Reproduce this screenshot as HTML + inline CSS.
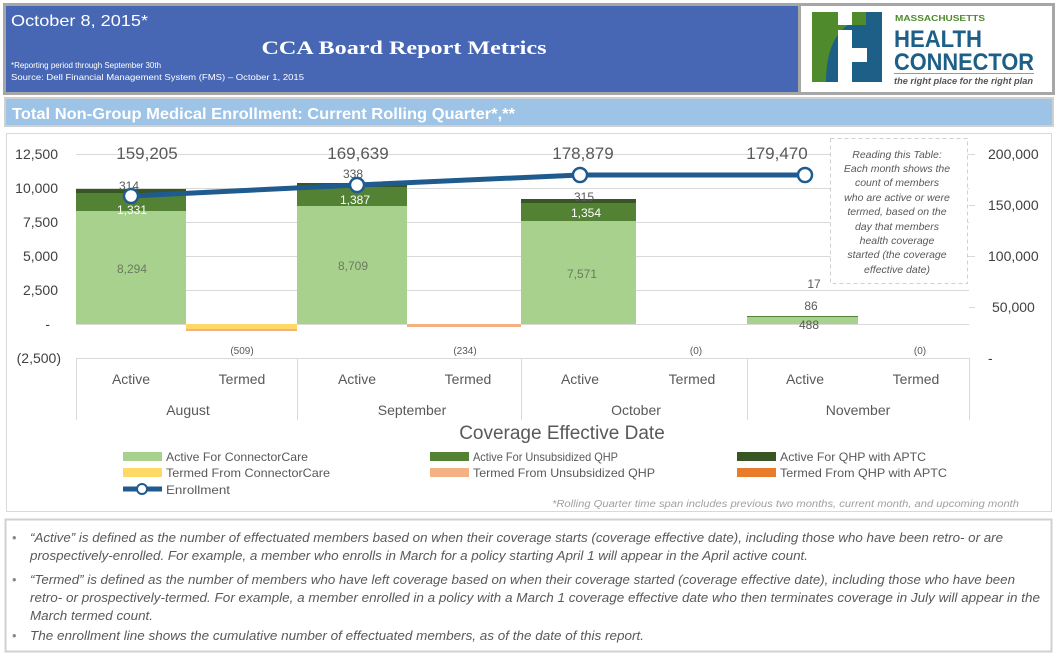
<!DOCTYPE html>
<html><head><meta charset="utf-8"><style>
html,body{margin:0;padding:0;background:#fff;}
svg{display:block;font-family:"Liberation Sans",sans-serif;}
</style></head><body>
<svg width="1057" height="656" viewBox="0 0 1057 656" xmlns="http://www.w3.org/2000/svg">
<rect x="0" y="0" width="1057" height="656" fill="#fff"/>
<!-- header -->
<rect x="3" y="3" width="1052" height="92" fill="#a6a6a6"/>
<rect x="6" y="6" width="792" height="86" fill="#4767b5"/>
<rect x="801" y="6" width="251" height="86" fill="#fff"/>
<text x="11" y="26" fill="#fff" font-size="16" textLength="137" lengthAdjust="spacingAndGlyphs">October 8, 2015*</text>
<text x="404" y="54" fill="#fff" font-size="19" font-weight="bold" font-family="Liberation Serif,serif" text-anchor="middle" textLength="285" lengthAdjust="spacingAndGlyphs">CCA Board Report Metrics</text>
<text x="11" y="68" fill="#fff" font-size="8" textLength="150" lengthAdjust="spacingAndGlyphs">*Reporting period through September 30th</text>
<text x="11" y="80" fill="#fff" font-size="8.5" textLength="293" lengthAdjust="spacingAndGlyphs">Source: Dell Financial Management System (FMS) – October 1, 2015</text>
<!-- logo -->
<rect x="812" y="12" width="70" height="70" fill="#4f8a2d"/>
<path d="M826 82 Q826 40 848 25 L882 25 L882 82 Z" fill="#1d5f86"/>
<rect x="838" y="12" width="14" height="13" fill="#fff"/>
<rect x="838" y="30" width="15" height="52" fill="#fff"/>
<rect x="866" y="12" width="16" height="70" fill="#1d5f86"/>
<rect x="851" y="48" width="16" height="14" fill="#fff"/>
<rect x="852" y="30" width="14" height="18" fill="#1d5f86"/>
<rect x="852" y="62" width="14" height="20" fill="#1d5f86"/>
<text x="895" y="21" fill="#4f8a2d" font-size="8" font-weight="bold" textLength="90" lengthAdjust="spacingAndGlyphs">MASSACHUSETTS</text>
<text x="894" y="47" fill="#1d5f86" font-size="24" font-weight="bold" textLength="88" lengthAdjust="spacingAndGlyphs">HEALTH</text>
<text x="894" y="70" fill="#1d5f86" font-size="24" font-weight="bold" textLength="140" lengthAdjust="spacingAndGlyphs">CONNECTOR</text>
<rect x="894" y="73" width="140" height="1" fill="#999"/>
<text x="894" y="84" fill="#555" font-size="9" font-style="italic" font-weight="bold" textLength="139" lengthAdjust="spacingAndGlyphs">the right place for the right plan</text>
<!-- title bar -->
<rect x="4" y="97" width="1050" height="30" fill="#d0d0d0"/>
<rect x="6" y="99" width="1046" height="26" fill="#9dc3e6"/>
<text x="12" y="119" fill="#fff" font-size="16" font-weight="bold" textLength="503" lengthAdjust="spacingAndGlyphs">Total Non-Group Medical Enrollment: Current Rolling Quarter*,**</text>
<!-- chart panel -->
<rect x="6.5" y="133.5" width="1045" height="378" fill="#fff" stroke="#d9d9d9"/>
<g stroke="#d9d9d9" stroke-width="1">
<line x1="76" y1="154.5" x2="969" y2="154.5"/>
<line x1="76" y1="188.5" x2="969" y2="188.5"/>
<line x1="76" y1="222.5" x2="969" y2="222.5"/>
<line x1="76" y1="256.5" x2="969" y2="256.5"/>
<line x1="76" y1="290.5" x2="969" y2="290.5"/>
<line x1="76" y1="324.5" x2="969" y2="324.5"/>
<line x1="76" y1="358.5" x2="969" y2="358.5"/>
<line x1="76.5" y1="358" x2="76.5" y2="420"/>
<line x1="297.5" y1="358" x2="297.5" y2="420"/>
<line x1="521.5" y1="358" x2="521.5" y2="420"/>
<line x1="747.5" y1="358" x2="747.5" y2="420"/>
<line x1="969.5" y1="358" x2="969.5" y2="420"/>
<line x1="969" y1="154.5" x2="975" y2="154.5"/>
<line x1="969" y1="205.5" x2="975" y2="205.5"/>
<line x1="969" y1="256.5" x2="975" y2="256.5"/>
<line x1="969" y1="307.5" x2="975" y2="307.5"/>
</g>
<g fill="#404040" font-size="14" text-anchor="end">
<text x="58" y="159">12,500</text><text x="58" y="193">10,000</text><text x="58" y="227">7,500</text>
<text x="58" y="261">5,000</text><text x="58" y="295">2,500</text><text x="50" y="329">-</text>
<text x="61" y="363">(2,500)</text>
</g>
<g fill="#404040" font-size="14">
<text x="988" y="159">200,000</text><text x="988" y="210">150,000</text><text x="988" y="261">100,000</text>
<text x="992" y="312">50,000</text><text x="988" y="363">-</text>
</g>
<!-- bars -->
<g>
<rect x="76" y="211" width="110" height="113" fill="#a9d18e"/>
<rect x="76" y="193" width="110" height="18" fill="#548235"/>
<rect x="76" y="189" width="110" height="4" fill="#375623"/>
<rect x="186" y="324" width="111" height="7" fill="#ffd966"/>
<rect x="186" y="329" width="111" height="2" fill="#f4b183"/>
<rect x="297" y="206" width="110" height="118" fill="#a9d18e"/>
<rect x="297" y="187" width="110" height="19" fill="#548235"/>
<rect x="297" y="183" width="110" height="4" fill="#375623"/>
<rect x="407" y="324" width="114" height="3" fill="#f4b183"/>
<rect x="521" y="221" width="115" height="103" fill="#a9d18e"/>
<rect x="521" y="203" width="115" height="18" fill="#548235"/>
<rect x="521" y="199" width="115" height="4" fill="#375623"/>
<rect x="747" y="317" width="111" height="7" fill="#a9d18e"/>
<rect x="747" y="316" width="111" height="1" fill="#548235"/>
</g>
<!-- line -->
<polyline points="131,196 357,185 580,175 805,175" fill="none" stroke="#1f5b8e" stroke-width="5"/>
<g fill="#fff" stroke="#1f5b8e" stroke-width="2.5">
<circle cx="131" cy="196" r="7"/><circle cx="357" cy="185" r="7"/><circle cx="580" cy="175" r="7"/><circle cx="805" cy="175" r="7"/>
</g>
<!-- labels -->
<g fill="#595959" font-size="17" text-anchor="middle">
<text x="147" y="159">159,205</text><text x="358" y="159">169,639</text>
<text x="583" y="159">178,879</text><text x="777" y="159">179,470</text>
</g>
<g font-size="12" text-anchor="middle">
<text x="129" y="190" fill="#595959">314</text>
<text x="132" y="214" fill="#fff">1,331</text>
<text x="132" y="273" fill="#6a7a60">8,294</text>
<text x="353" y="178" fill="#595959">338</text>
<text x="355" y="204" fill="#fff">1,387</text>
<text x="353" y="270" fill="#6a7a60">8,709</text>
<text x="584" y="201" fill="#595959">315</text>
<text x="586" y="217" fill="#fff">1,354</text>
<text x="582" y="278" fill="#6a7a60">7,571</text>
<text x="814" y="288" fill="#595959">17</text>
<text x="811" y="310" fill="#595959">86</text>
<text x="809" y="329" fill="#595959">488</text>
</g>
<g fill="#595959" font-size="10" text-anchor="middle">
<text x="242" y="354">(509)</text><text x="465" y="354">(234)</text>
<text x="696" y="354">(0)</text><text x="920" y="354">(0)</text>
</g>
<g fill="#595959" font-size="14" text-anchor="middle">
<text x="131" y="384">Active</text><text x="242" y="384">Termed</text>
<text x="357" y="384">Active</text><text x="468" y="384">Termed</text>
<text x="580" y="384">Active</text><text x="692" y="384">Termed</text>
<text x="805" y="384">Active</text><text x="916" y="384">Termed</text>
<text x="188" y="415">August</text><text x="412" y="415">September</text>
<text x="636" y="415">October</text><text x="858" y="415">November</text>
</g>
<text x="562" y="439" fill="#595959" font-size="19" text-anchor="middle">Coverage Effective Date</text>
<!-- note box -->
<rect x="830.5" y="138.5" width="137" height="145" fill="#fff" stroke="#d0d0d0" stroke-dasharray="4,3"/>
<g fill="#595959" font-size="10.5" font-style="italic" text-anchor="middle">
<text x="897" y="158">Reading this Table:</text>
<text x="897" y="172">Each month shows the</text>
<text x="897" y="186">count of members</text>
<text x="897" y="201">who are active or were</text>
<text x="897" y="215">termed, based on the</text>
<text x="897" y="230">day that members</text>
<text x="897" y="244">health coverage</text>
<text x="897" y="258">started (the coverage</text>
<text x="897" y="273">effective date)</text>
</g>
<!-- legend -->
<rect x="123" y="452" width="39" height="9" fill="#a9d18e"/>
<rect x="123" y="468" width="39" height="9" fill="#ffd966"/>
<rect x="430" y="452" width="39" height="9" fill="#548235"/>
<rect x="430" y="468" width="39" height="9" fill="#f4b183"/>
<rect x="737" y="452" width="39" height="9" fill="#375623"/>
<rect x="737" y="468" width="39" height="9" fill="#e97c2a"/>
<line x1="123" y1="489" x2="162" y2="489" stroke="#1f5b8e" stroke-width="5"/>
<circle cx="142" cy="489" r="5" fill="#fff" stroke="#1f5b8e" stroke-width="2"/>
<g fill="#595959" font-size="12">
<text x="166" y="461" textLength="142" lengthAdjust="spacingAndGlyphs">Active For ConnectorCare</text>
<text x="166" y="477" textLength="164" lengthAdjust="spacingAndGlyphs">Termed From ConnectorCare</text>
<text x="166" y="494" textLength="64" lengthAdjust="spacingAndGlyphs">Enrollment</text>
<text x="473" y="461" textLength="145" lengthAdjust="spacingAndGlyphs">Active For Unsubsidized QHP</text>
<text x="473" y="477" textLength="182" lengthAdjust="spacingAndGlyphs">Termed From Unsubsidized QHP</text>
<text x="780" y="461" textLength="146" lengthAdjust="spacingAndGlyphs">Active For QHP with APTC</text>
<text x="780" y="477" textLength="167" lengthAdjust="spacingAndGlyphs">Termed From QHP with APTC</text>
</g>
<text x="1019" y="507" fill="#a0a0a0" font-size="10" font-style="italic" text-anchor="end" textLength="467" lengthAdjust="spacingAndGlyphs">*Rolling Quarter time span includes previous two months, current month, and upcoming month</text>
<!-- footer -->
<rect x="5.5" y="519.5" width="1046" height="132" fill="#fff" stroke="#d0d0d0" stroke-width="2"/>
<g fill="#595959" font-size="12.5" font-style="italic">
<text x="12" y="542" fill="#888">•</text>
<text x="30" y="542" textLength="973" lengthAdjust="spacingAndGlyphs">“Active” is defined as the number of effectuated members based on when their coverage starts (coverage effective date), including those who have been retro- or are</text>
<text x="30" y="560" textLength="778" lengthAdjust="spacingAndGlyphs">prospectively-enrolled. For example, a member who enrolls in March for a policy starting April 1 will appear in the April active count.</text>
<text x="12" y="584" fill="#888">•</text>
<text x="30" y="584" textLength="985" lengthAdjust="spacingAndGlyphs">“Termed” is defined as the number of members who have left coverage based on when their coverage started (coverage effective date), including those who have been</text>
<text x="30" y="602" textLength="1010" lengthAdjust="spacingAndGlyphs">retro- or prospectively-termed. For example, a member enrolled in a policy with a March 1 coverage effective date who then terminates coverage in July will appear in the</text>
<text x="30" y="620" textLength="123" lengthAdjust="spacingAndGlyphs">March termed count.</text>
<text x="12" y="640" fill="#888">•</text>
<text x="30" y="640" textLength="614" lengthAdjust="spacingAndGlyphs">The enrollment line shows the cumulative number of effectuated members, as of the date of this report.</text>
</g>
</svg>
</body></html>
